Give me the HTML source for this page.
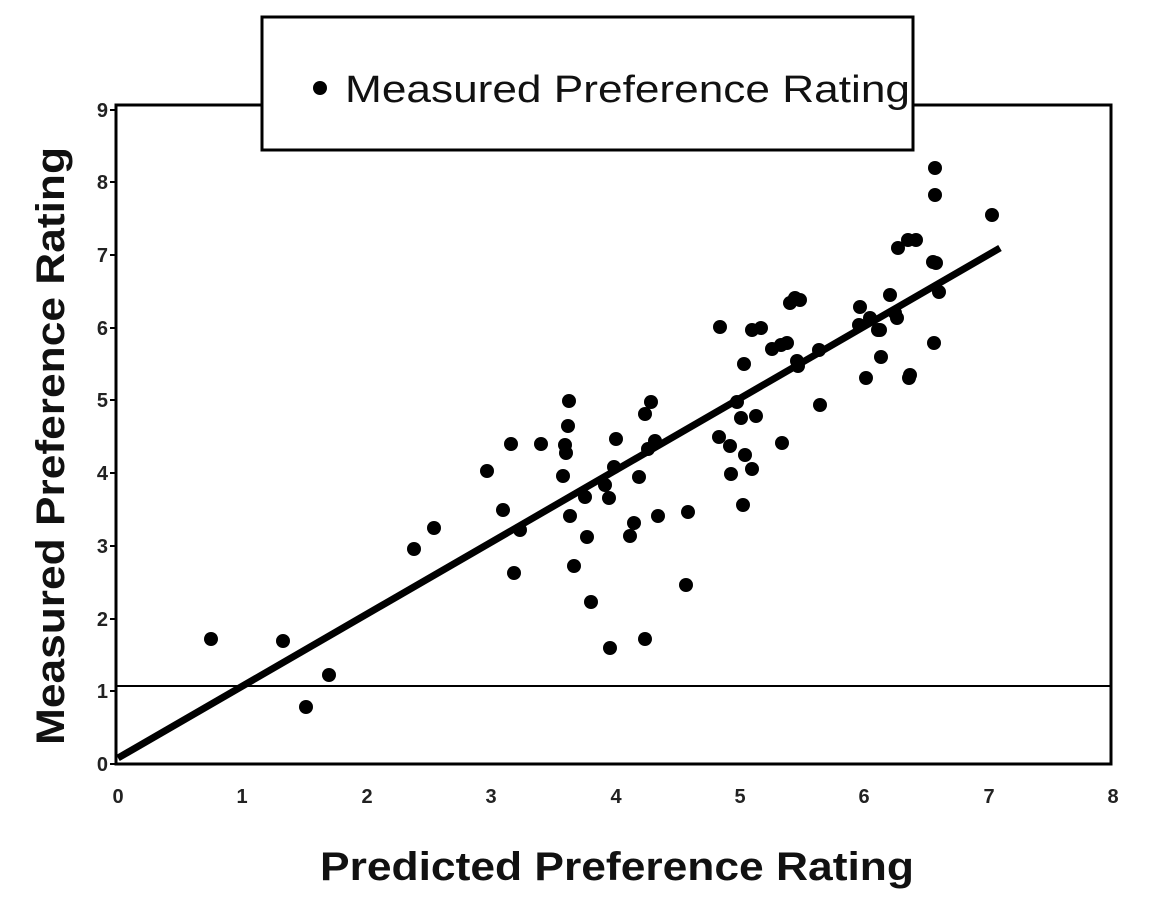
<!DOCTYPE html>
<html><head><style>body{margin:0;background:#fff}svg{display:block}</style></head><body>
<svg width="1167" height="902" xmlns="http://www.w3.org/2000/svg" font-family="Liberation Sans, sans-serif">
<rect x="116" y="105" width="995" height="659" fill="none" stroke="#000" stroke-width="3"/>
<line x1="116" y1="686" x2="1111" y2="686" stroke="#000" stroke-width="2"/>
<g stroke="#000" stroke-width="2">
<line x1="110" y1="764" x2="116" y2="764"/><line x1="110" y1="691" x2="116" y2="691"/><line x1="110" y1="619" x2="116" y2="619"/><line x1="110" y1="546" x2="116" y2="546"/><line x1="110" y1="473" x2="116" y2="473"/><line x1="110" y1="400" x2="116" y2="400"/><line x1="110" y1="328" x2="116" y2="328"/><line x1="110" y1="255" x2="116" y2="255"/><line x1="110" y1="182" x2="116" y2="182"/><line x1="110" y1="110" x2="116" y2="110"/>
</g>
<g font-size="20" font-weight="bold" text-anchor="end" fill="#222">
<text x="108" y="771">0</text><text x="108" y="698">1</text><text x="108" y="626">2</text><text x="108" y="553">3</text><text x="108" y="480">4</text><text x="108" y="407">5</text><text x="108" y="335">6</text><text x="108" y="262">7</text><text x="108" y="189">8</text><text x="108" y="117">9</text>
</g>
<g font-size="20" font-weight="bold" text-anchor="middle" fill="#222">
<text x="118" y="803">0</text><text x="242" y="803">1</text><text x="367" y="803">2</text><text x="491" y="803">3</text><text x="616" y="803">4</text><text x="740" y="803">5</text><text x="864" y="803">6</text><text x="989" y="803">7</text><text x="1113" y="803">8</text>
</g>
<text x="320" y="880" font-size="40" font-weight="bold" textLength="594" lengthAdjust="spacingAndGlyphs" fill="#111">Predicted Preference Rating</text>
<text transform="translate(64,745) rotate(-90)" font-size="40" font-weight="bold" textLength="598" lengthAdjust="spacingAndGlyphs" fill="#111">Measured Preference Rating</text>
<line x1="118" y1="758" x2="1000" y2="248" stroke="#000" stroke-width="7"/>
<g fill="#000">
<circle cx="211" cy="639" r="7"/><circle cx="283" cy="641" r="7"/><circle cx="306" cy="707" r="7"/><circle cx="329" cy="675" r="7"/><circle cx="414" cy="549" r="7"/><circle cx="434" cy="528" r="7"/><circle cx="487" cy="471" r="7"/><circle cx="503" cy="510" r="7"/><circle cx="511" cy="444" r="7"/><circle cx="514" cy="573" r="7"/><circle cx="520" cy="530" r="7"/><circle cx="541" cy="444" r="7"/><circle cx="563" cy="476" r="7"/><circle cx="565" cy="445" r="7"/><circle cx="566" cy="453" r="7"/><circle cx="570" cy="516" r="7"/><circle cx="569" cy="401" r="7"/><circle cx="568" cy="426" r="7"/><circle cx="574" cy="566" r="7"/><circle cx="585" cy="497" r="7"/><circle cx="587" cy="537" r="7"/><circle cx="591" cy="602" r="7"/><circle cx="605" cy="485" r="7"/><circle cx="609" cy="498" r="7"/><circle cx="614" cy="467" r="7"/><circle cx="616" cy="439" r="7"/><circle cx="630" cy="536" r="7"/><circle cx="634" cy="523" r="7"/><circle cx="639" cy="477" r="7"/><circle cx="645" cy="639" r="7"/><circle cx="645" cy="414" r="7"/><circle cx="648" cy="449" r="7"/><circle cx="651" cy="402" r="7"/><circle cx="655" cy="441" r="7"/><circle cx="658" cy="516" r="7"/><circle cx="686" cy="585" r="7"/><circle cx="688" cy="512" r="7"/><circle cx="610" cy="648" r="7"/><circle cx="719" cy="437" r="7"/><circle cx="720" cy="327" r="7"/><circle cx="730" cy="446" r="7"/><circle cx="731" cy="474" r="7"/><circle cx="737" cy="402" r="7"/><circle cx="741" cy="418" r="7"/><circle cx="743" cy="505" r="7"/><circle cx="745" cy="455" r="7"/><circle cx="744" cy="364" r="7"/><circle cx="752" cy="330" r="7"/><circle cx="756" cy="416" r="7"/><circle cx="761" cy="328" r="7"/><circle cx="752" cy="469" r="7"/><circle cx="772" cy="349" r="7"/><circle cx="781" cy="345" r="7"/><circle cx="790" cy="303" r="7"/><circle cx="787" cy="343" r="7"/><circle cx="795" cy="298" r="7"/><circle cx="797" cy="361" r="7"/><circle cx="800" cy="300" r="7"/><circle cx="798" cy="366" r="7"/><circle cx="819" cy="350" r="7"/><circle cx="782" cy="443" r="7"/><circle cx="820" cy="405" r="7"/><circle cx="860" cy="307" r="7"/><circle cx="859" cy="325" r="7"/><circle cx="866" cy="378" r="7"/><circle cx="878" cy="330" r="7"/><circle cx="881" cy="357" r="7"/><circle cx="890" cy="295" r="7"/><circle cx="895" cy="313" r="7"/><circle cx="898" cy="248" r="7"/><circle cx="908" cy="240" r="7"/><circle cx="909" cy="378" r="7"/><circle cx="880" cy="330" r="7"/><circle cx="934" cy="343" r="7"/><circle cx="910" cy="375" r="7"/><circle cx="936" cy="263" r="7"/><circle cx="935" cy="168" r="7"/><circle cx="935" cy="195" r="7"/><circle cx="916" cy="240" r="7"/><circle cx="933" cy="262" r="7"/><circle cx="992" cy="215" r="7"/><circle cx="870" cy="318" r="7"/><circle cx="939" cy="292" r="7"/><circle cx="897" cy="318" r="7"/>
</g>
<rect x="262" y="17" width="651" height="133" fill="#fff" stroke="#000" stroke-width="3"/>
<circle cx="320" cy="88" r="7" fill="#000"/>
<text x="345" y="102" font-size="38" textLength="565" lengthAdjust="spacingAndGlyphs" fill="#111">Measured Preference Rating</text>
</svg>
</body></html>
